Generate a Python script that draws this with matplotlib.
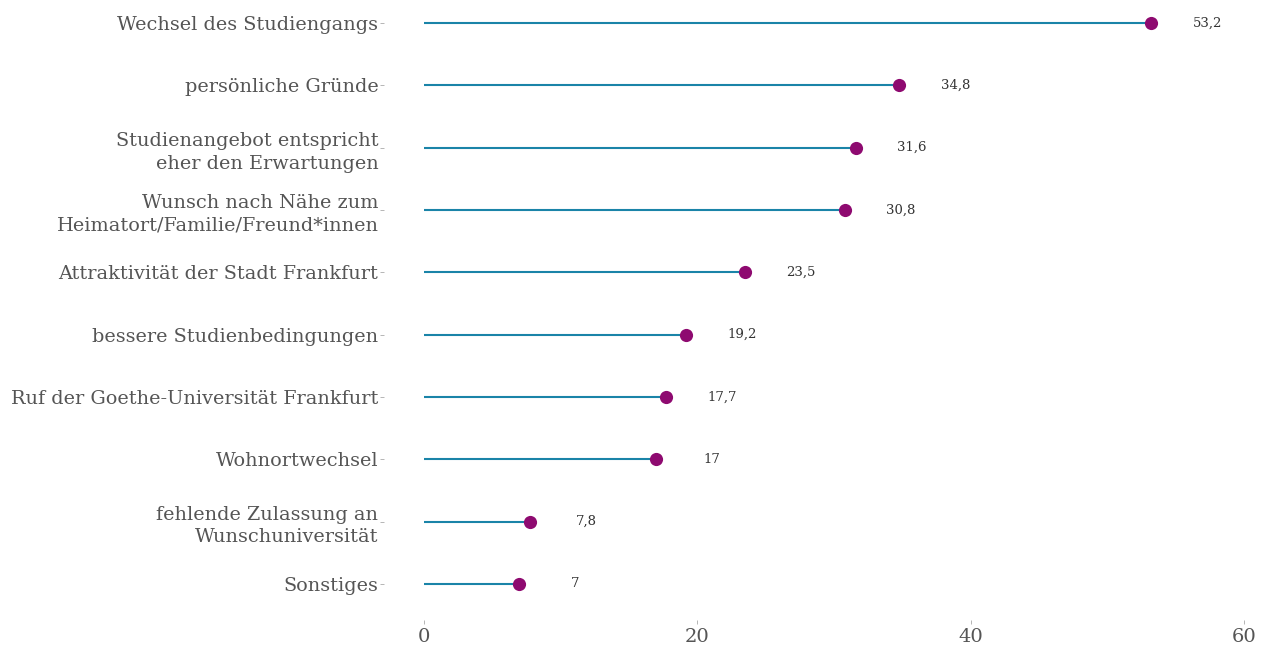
import matplotlib
matplotlib.use("Agg")
import matplotlib.pyplot as plt

# Gründe für den Hochschulwechsel (Prozent)
reasons = [
    "Sonstiges",
    "fehlende Zulassung an\nWunschuniversität",
    "Wohnortwechsel",
    "Ruf der Goethe-Universität Frankfurt",
    "bessere Studienbedingungen",
    "Attraktivität der Stadt Frankfurt",
    "Wunsch nach Nähe zum\nHeimatort/Familie/Freund*innen",
    "Studienangebot entspricht\neher den Erwartungen",
    "persönliche Gründe",
    "Wechsel des Studiengangs",
]
values = [7, 7.8, 17, 17.7, 19.2, 23.5, 30.8, 31.6, 34.8, 53.2]
value_labels = ["7", "7,8", "17", "17,7", "19,2", "23,5", "30,8", "31,6", "34,8", "53,2"]
xticks = [0, 20, 40, 60]

line_col = "#1a84a8"
dot_col = "#8e0a70"
text_col = "#555555"

plt.rcParams['font.family'] = ['DejaVu Serif']

fig = plt.figure(figsize=(12.64, 6.46), dpi=100)
ax = fig.add_axes([384 / 1264, 26 / 646, (1244 - 384) / 1264, 620 / 646])

ypos = list(range(1, len(reasons) + 1))
ax.hlines(ypos, 0, values, color=line_col, linewidth=1.5, zorder=2)
ax.scatter(values, ypos, s=90, color=dot_col, zorder=3, linewidths=0)
for v, y, lab in zip(values, ypos, value_labels):
    ax.text(v + 4.1, y, lab, ha="center", va="center", fontsize=9.5, color="#333333")

ax.set_xlim(-2.9, 60)
ax.set_ylim(0.42, 10.37)
ax.set_yticks(ypos)
ax.set_yticklabels(reasons, fontsize=13.9, color=text_col, linespacing=1.35)
ax.set_xticks(xticks)
ax.set_xticklabels([str(t) for t in xticks], fontsize=14, color=text_col)
ax.tick_params(axis="y", length=3, width=0.6, color="#aaaaaa", pad=1)
ax.tick_params(axis="x", length=3, width=0.6, color="#aaaaaa", pad=3)
for s in ax.spines.values():
    s.set_visible(False)
ax.grid(False)

fig.savefig("out.png", dpi=100)
